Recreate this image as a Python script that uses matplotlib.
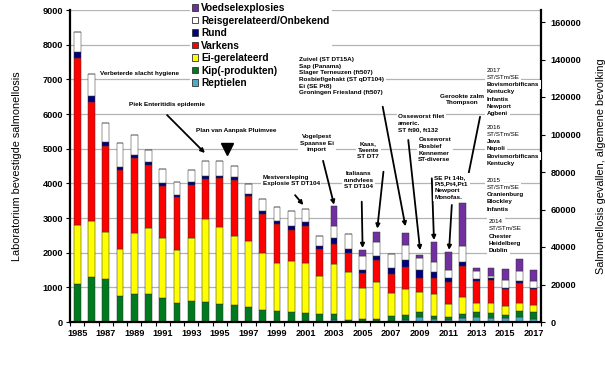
import numpy as np
import matplotlib
matplotlib.use('Agg')
import matplotlib.pyplot as plt
from matplotlib.patches import Patch

plt.rcParams['font.family'] = ['Liberation Sans', 'DejaVu Sans']
plt.rcParams['font.weight'] = 'bold'

years = np.arange(1985, 2018)

# segmenten per jaar (onder -> boven)
reptielen = [0, 0, 0, 0, 0, 0, 0, 0, 0, 0, 0, 0, 0, 0, 0, 0, 30, 0, 60, 0, 0, 40, 30,
             70, 150, 90, 65, 120, 140, 120, 110, 135, 95]
kip = [1090, 1310, 1230, 750, 810, 820, 690, 550, 605, 585, 530, 480, 430, 345, 315, 290,
       240, 230, 160, 60, 75, 55, 145, 130, 125, 90, 80, 105, 160, 150, 100, 175, 195]
ei = [1720, 1610, 1370, 1365, 1765, 1900, 1730, 1535, 1825, 2375, 2220, 2010, 1915, 1655,
      1385, 1480, 1420, 1100, 1450, 1390, 895, 1070, 670, 765, 590, 620, 375, 495, 250,
      270, 250, 250, 200]
varkens = [4815, 3440, 2490, 2260, 2155, 1820, 1510, 1510, 1510, 1175, 1415, 1615, 1280,
           1105, 1115, 875, 1080, 765, 570, 550, 445, 625, 540, 620, 405, 470, 630, 895,
           630, 680, 480, 575, 450]
rund = [165, 160, 100, 105, 100, 75, 90, 55, 90, 75, 55, 75, 55, 85, 105, 125, 115, 105,
        175, 115, 95, 115, 185, 205, 230, 180, 105, 125, 55, 60, 40, 55, 30]
reis = [585, 625, 540, 670, 555, 355, 380, 380, 345, 435, 415, 330, 290, 350, 390, 430,
        365, 270, 355, 415, 395, 395, 390, 430, 350, 295, 245, 465, 250, 60, 230, 290, 220]
voedsel = [0, 0, 0, 0, 0, 0, 0, 0, 0, 0, 0, 0, 0, 0, 0, 0, 0, 0, 575, 0, 180, 285, 0,
           350, 70, 555, 525, 1225, 70, 210, 330, 330, 310]

series = [
    ('Reptielen', reptielen, '#4BACC6'),
    ('Kip(-produkten)', kip, '#007A1E'),
    ('Ei-gerelateerd', ei, '#FFFF00'),
    ('Varkens', varkens, '#FF0000'),
    ('Rund', rund, '#000080'),
    ('Reisgerelateerd/Onbekend', reis, '#FFFFFF'),
    ('Voedselexplosies', voedsel, '#7030A0'),
]

# tekst-annotaties: (x, y, tekst, ha)
notes = [
    (1986.6, 7180, 'Verbeterde slacht hygiene', 'left'),
    (1988.6, 6260, 'Piek Enteritidis epidemie', 'left'),
    (1993.3, 5510, 'Plan van Aanpak Pluimvee', 'left'),
    (1998.0, 4080, 'Mestversleping\nExplosie ST DT104', 'left'),
    (2000.55, 7090, 'Zuivel (ST DT15A)\nSap (Panama)\nSlager Terneuzen (ft507)\n'
                    'Rosbief/gehakt (ST qDT104)\nEi (SE Pt8)\nGroningen Friesland (ft507)', 'left'),
    (2001.8, 5160, 'Vogelpest\nSpaanse Ei\nimport', 'center'),
    (2004.7, 4090, 'Italiaans\nrundvlees\nST DT104', 'center'),
    (2005.4, 4960, 'Kaas,\nTwente\nST DT7', 'center'),
    (2007.5, 5740, 'Osseworst filet\nameric.\nST ft90, ft132', 'left'),
    (2008.9, 4970, 'Osseworst\nRosbief\nKennemer\nST-diverse', 'left'),
    (2010.03, 3885, 'SE Pt 14b,\nPt5,Pt4,Pt1\nNewport\nMonofas.', 'left'),
    (2012.0, 6420, 'Gerookte zalm\nThompson', 'center'),
]

# pijlen: (start x, start y, jaar, x-verschuiving kop, hoogte boven staaf)
arrows = [
    (1991.3, 5970, 1994, -0.05, 230),
    (2000.27, 3660, 2001, -0.15, 125),
    (2006.41, 6210, 2008, 0.0, 190),
    (2002.23, 4650, 2003, 0.0, 40),
    (2004.94, 3470, 2005, 0.0, 50),
    (2006.46, 4335, 2006, 0.03, 110),
    (2008.2, 5250, 2009, 0.03, 150),
    (2009.85, 4145, 2010, 0.0, 65),
    (2011.25, 3375, 2011, 0.06, 55),
    (2013.23, 5920, 2012, 0.06, 100),
]

# serotype-blokken rechts: (x, y bovenste regel, regels)
blocks = [
    (2013.7, 7268, ['2017', 'ST/STm/SE', 'Bovismorbificans', 'Kentucky', 'Infantis', 'Newport', 'Agbeni']),
    (2013.7, 5624, ['2016', 'ST/STm/SE', 'Java', 'Napoli', 'Bovismorbificans', 'Kentucky']),
    (2013.7, 4096, ['2015', 'ST/STm/SE', 'Oranienburg', 'Blockley', 'Infantis']),
    (2013.86, 2893, ['2014', 'ST/STm/SE', 'Chester', 'Heidelberg', 'Dublin']),
]

fig = plt.figure(figsize=(6.05, 3.8), dpi=100)
ax = fig.add_axes([70 / 605, 58 / 380, 471 / 605, 312 / 380])

bottom = np.zeros(len(years))
for name, vals, col in series:
    vals = np.array(vals, dtype=float)
    ax.bar(years, vals, bottom=bottom, width=0.48, color=col, edgecolor='#333333',
           linewidth=0.35, zorder=2)
    bottom += vals
totals = bottom

ax.set_xlim(1984.5, 2017.5)
ax.set_ylim(0, 9000)
ax.set_yticks(np.arange(0, 9001, 1000))
ax.yaxis.grid(True, color='#B4B4B4', linewidth=0.9, zorder=0)
ax.set_axisbelow(True)
ax.set_xticks(years[::2])
ax.set_xticks(np.arange(1984.5, 2018, 1), minor=True)
ax.tick_params(axis='x', which='major', length=0, pad=5, labelsize=6.6)
ax.tick_params(axis='x', which='minor', length=3, width=0.8)
ax.tick_params(axis='y', length=3, width=0.8, pad=2, labelsize=6.6)
for s in ['left', 'bottom']:
    ax.spines[s].set_linewidth(1.6)
ax.spines['top'].set_visible(False)
ax.spines['right'].set_visible(False)
ax.set_ylabel('Laboratorium bevestigde salmonellosis', fontsize=7.8)
ax.yaxis.set_label_coords(-0.102, 0.5)

ax2 = ax.twinx()
ax2.set_ylim(0, 166400)
ax2.set_yticks(np.arange(0, 160001, 20000))
ax2.tick_params(axis='y', length=3, width=0.8, pad=4, labelsize=6.6)
ax2.spines['right'].set_linewidth(1.6)
for s in ['left', 'top', 'bottom']:
    ax2.spines[s].set_visible(False)
ax2.set_ylabel('Salmonellosis gevallen, algemene bevolking', fontsize=7.8)
ax2.yaxis.set_label_coords(1.117, 0.5)

# legenda eerst, teksten erboven
handles = [Patch(facecolor=col, edgecolor='#333333', linewidth=0.6, label=name)
           for name, vals, col in series[::-1]]
leg = ax2.legend(handles=handles, loc='upper left', bbox_to_anchor=(190 / 605, 1 - 1 / 380),
                 bbox_transform=fig.transFigure,
                 fontsize=7.3, frameon=True, handlelength=0.6, handleheight=0.6,
                 handletextpad=0.3, labelspacing=0.25, borderpad=0.2, borderaxespad=0)
leg.get_frame().set_facecolor('white')
leg.get_frame().set_edgecolor('none')
leg.get_frame().set_alpha(1)
leg.set_zorder(1)

box = dict(facecolor='white', edgecolor='none', pad=1.2)
for x, y, txt, ha in notes:
    ax2.text(x, y * 166400 / 9000, txt, ha=ha, va='center', fontsize=4.6, linespacing=1.4,
             bbox=box, zorder=4)

for x0, y0, yr, dx, dy in arrows:
    i = yr - years[0]
    ax.annotate('', xy=(yr + dx, totals[i] + dy), xytext=(x0, y0),
                arrowprops=dict(arrowstyle='-|>', color='black', lw=1.3,
                                mutation_scale=6, shrinkA=0, shrinkB=0), zorder=5)

ax.plot([1995.5], [4990], marker='v', color='black', markersize=8, zorder=5)

for x, ytop, lines in blocks:
    for k, line in enumerate(lines):
        ax2.text(x, (ytop - k * 210) * 166400 / 9000, line, ha='left', va='center',
                 fontsize=4.5, fontweight='normal' if k < 2 else 'bold', bbox=box, zorder=4)

fig.savefig('out.png', dpi=100)
